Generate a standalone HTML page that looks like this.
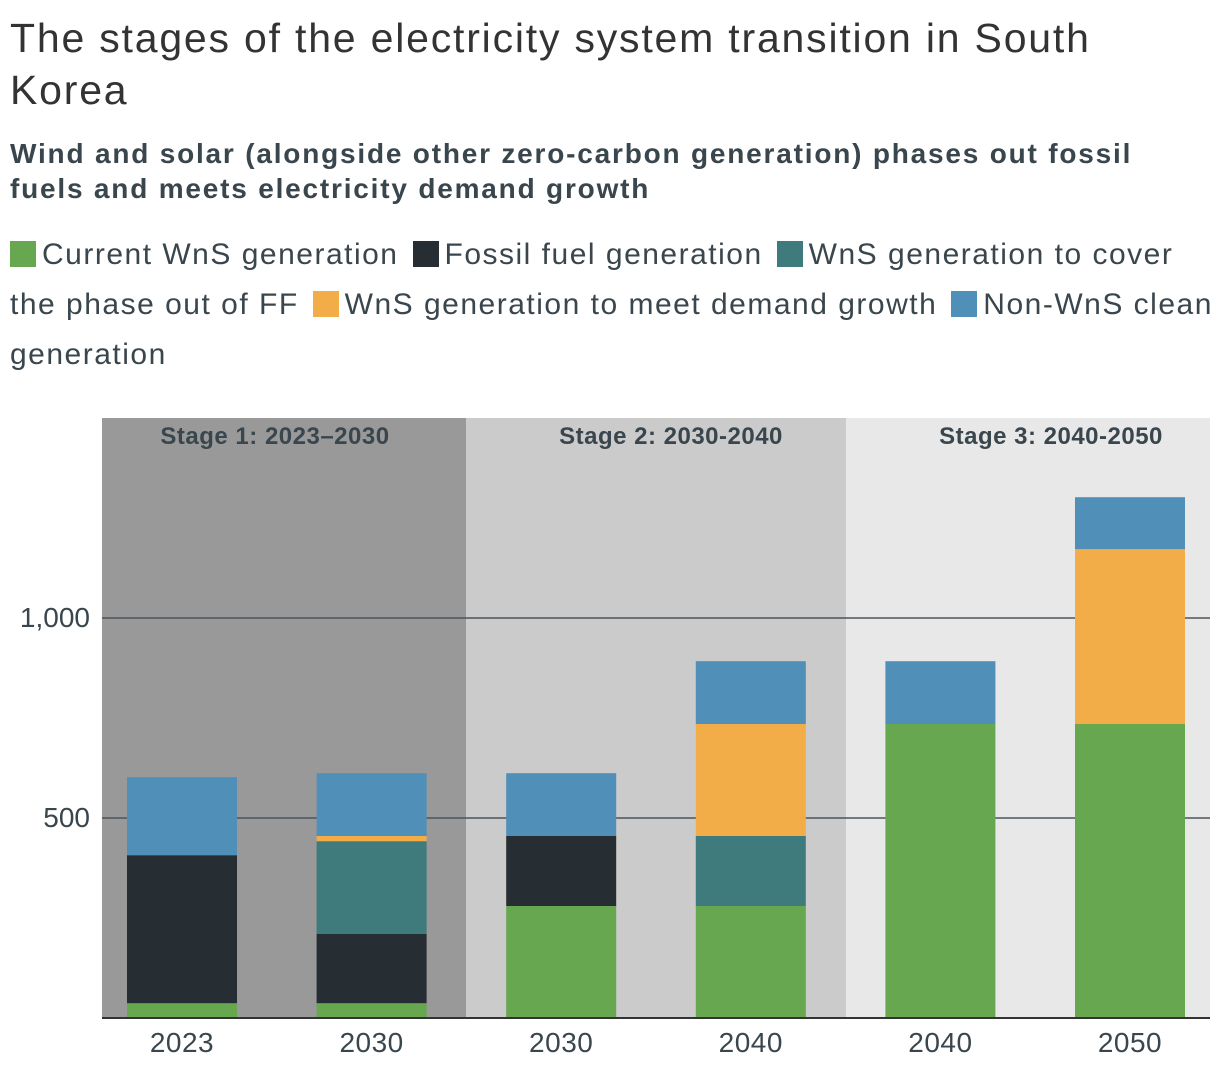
<!DOCTYPE html>
<html><head><meta charset="utf-8">
<style>
body{margin:0;background:#fff;font-family:"Liberation Sans",sans-serif;}
#wrap{position:relative;width:1220px;height:1082px;overflow:hidden;}
h1{position:absolute;left:10px;top:12px;margin:0;font-weight:normal;font-size:41px;line-height:52px;color:#333;white-space:nowrap;letter-spacing:1.8px;}
h2{position:absolute;left:10px;top:136px;margin:0;font-size:28px;line-height:35px;color:#3a464d;white-space:nowrap;font-weight:bold;letter-spacing:1.8px;}
#legend{position:absolute;left:10px;top:230px;font-size:30px;line-height:50px;color:#3a464d;white-space:nowrap;letter-spacing:1.5px;}
.sw{display:inline-block;width:26px;height:26px;vertical-align:-3px;margin-right:6px;}
.gap{display:inline-block;width:14px;}
</style></head><body>
<div id="wrap">
<h1>The stages of the electricity system transition in South<br>Korea</h1>
<h2>Wind and solar (alongside other zero-carbon generation) phases out fossil<br>fuels and meets electricity demand growth</h2>
<div id="legend">
<span><span class="sw" style="background:#66a74f"></span>Current WnS generation</span><span class="gap"></span><span><span class="sw" style="background:#272e33"></span>Fossil fuel generation</span><span class="gap"></span><span><span class="sw" style="background:#3f7b7c"></span>WnS generation to cover<br>the phase out of FF</span><span class="gap"></span><span><span class="sw" style="background:#f2ad48"></span>WnS generation to meet demand growth</span><span class="gap"></span><span><span class="sw" style="background:#4f8fb8"></span>Non-WnS clean<br>generation</span>
</div>
<svg id="plot" width="1220" height="1082" style="position:absolute;left:0;top:0"></svg>
</div>
<script>
const categories=["2023","2030","2030","2040","2040","2050"];
const currentWns=[37,37,280,280,735,735];
const fossil=[370,173,175,0,0,0];
const wnsPhaseOut=[0,232,0,175,0,0];
const wnsDemand=[0,13,0,280,0,437];
const nonWns=[195,157,157,157,157,130];
const yTicks=[500,1000];
const stageLabels=["Stage 1: 2023–2030","Stage 2: 2030-2040","Stage 3: 2040-2050"];
const colors=["#66a74f","#272e33","#3f7b7c","#f2ad48","#4f8fb8"];
const seriesNames=["current-wns","fossil","wns-phase-out","wns-demand","non-wns"];
const NS="http://www.w3.org/2000/svg";
const svg=document.getElementById('plot');
const y0=1018,pxPer=0.4;
const y=v=>y0-v*pxPer;
const xCenter=i=>182+i*189.6;
const bw=110;
function mk(t,a){const e=document.createElementNS(NS,t);for(const k in a)e.setAttribute(k,a[k]);svg.appendChild(e);return e;}
const stageX=[[102,466,"#999999"],[466,846,"#cbcbcb"],[846,1210,"#e8e8e8"]];
stageX.forEach((s,i)=>{
 const r=mk('rect',{x:s[0],y:418,width:s[1]-s[0],height:600,fill:s[2]});
 
 
 const t=mk('text',{x:[275,671,1051][i],y:444,'text-anchor':'middle','font-size':24,'font-weight':'bold',fill:'#3a464d','font-family':'Liberation Sans, sans-serif','letter-spacing':'0.5'});
 t.textContent=stageLabels[i];
 
 
});
yTicks.forEach(v=>{
 const l=mk('line',{x1:102,x2:1210,y1:y(v),y2:y(v),stroke:'#4a555c','stroke-width':1.5});
 
 
 const t=mk('text',{x:90,y:y(v)+9,'text-anchor':'end','font-size':28,fill:'#3a464d','font-family':'Liberation Sans, sans-serif'});
 t.textContent=v.toLocaleString('en-US');
 
 
});
const series=[currentWns,fossil,wnsPhaseOut,wnsDemand,nonWns];
categories.forEach((c,i)=>{
 let acc=0;
 series.forEach((s,k)=>{
  const v=s[i]; if(!v) return;
  const r=mk('rect',{x:xCenter(i)-bw/2,y:y(acc+v),width:bw,height:v*pxPer,fill:colors[k]});
  
  
  acc+=v;
 });
 const t=mk('text',{x:xCenter(i),y:1052,'text-anchor':'middle','font-size':28,fill:'#3a464d','font-family':'Liberation Sans, sans-serif','letter-spacing':'0.5'});
 t.textContent=c;
 
 
});
const ax=mk('line',{x1:102,x2:1210,y1:y0,y2:y0,stroke:'#333','stroke-width':2});


</script>
</body></html>
